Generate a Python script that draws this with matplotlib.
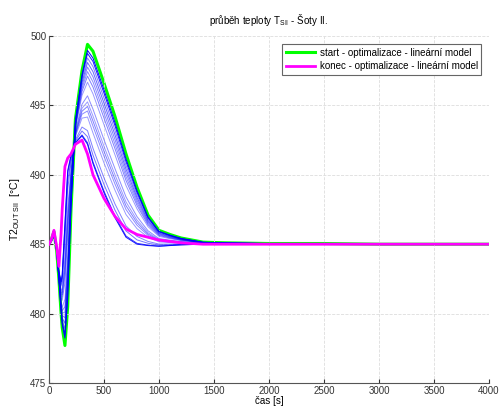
import numpy as np
import matplotlib
matplotlib.use('Agg')
import matplotlib.pyplot as plt

plt.rcParams['font.family'] = ['Liberation Sans', 'DejaVu Sans']
plt.rcParams['mathtext.fontset'] = 'custom'
plt.rcParams['mathtext.rm'] = 'Liberation Sans'

# key times [s]
t_key = [0, 20, 45, 70, 90, 110, 120, 145, 170, 200, 240, 300, 350, 400,
         500, 600, 700, 800, 900, 1000, 1100, 1200, 1400, 1600, 2000, 2500, 3000, 4000]

# start of optimisation (green)
t_start = [485.0, 485.3, 485.9, 484.5, 482.5, 480.0, 479.0, 477.7, 480.5, 487.5, 494.0, 497.5, 499.4, 498.9,
           496.6, 494.2, 491.5, 489.1, 487.1, 486.0, 485.7, 485.45, 485.15, 485.1, 485.05, 485.05, 485.0, 485.0]

# end of optimisation (magenta)
t_end = [485.0, 485.3, 486.0, 484.8, 483.4, 485.8, 487.5, 490.6, 491.2, 491.5, 492.2, 492.5, 491.5, 490.0,
         488.3, 487.0, 486.1, 485.7, 485.5, 485.3, 485.2, 485.1, 485.0, 485.0, 485.0, 485.0, 485.0, 485.0]

# lowest intermediate iteration (blue)
t_low = [485.0, 485.2, 485.6, 484.6, 483.0, 482.3, 482.8, 486.5, 490.3, 491.4, 492.3, 492.8, 492.2, 490.8,
         488.7, 486.9, 485.5, 485.0, 484.9, 484.85, 484.9, 484.95, 485.0, 485.0, 485.0, 485.0, 485.0, 485.0]

# peak temperatures of intermediate iterations
blue_peaks = [499.0, 498.8, 498.5, 498.2, 497.9, 497.6, 497.3, 496.9, 496.0, 495.6,
              495.3, 495.0, 494.6, 493.7, 493.3, 492.9, 492.8]
blue_alpha = [1.0, 0.9, 0.5, 0.6, 0.5, 0.45, 0.5, 0.4, 0.45, 0.4,
              0.5, 0.45, 0.4, 0.5, 0.55, 0.8, 0.9]

fig = plt.figure(figsize=(5, 4.07), dpi=100)
ax = fig.add_axes([0.098, 0.059, 0.88, 0.8525])

s = np.array(t_start)
lo = np.array(t_low)
for p, a in zip(blue_peaks, blue_alpha):
    w = (p - 492.8) / (499.4 - 492.8)
    ax.plot(t_key, w * s + (1 - w) * lo, color='#0000ff', alpha=a, lw=0.7)

ax.plot(t_key, t_start, color='#00ff00', lw=2.2, zorder=1,
        label='start - optimalizace - lineární model')
ax.plot(t_key, t_end, color='#ff00ff', lw=2.0, zorder=5,
        label='konec - optimalizace - lineární model')

ax.set_xlim(0, 4000)
ax.set_ylim(475, 500)
ax.set_xticks(np.arange(0, 4001, 500))
ax.set_yticks(np.arange(475, 501, 5))
ax.tick_params(direction='in', labelsize=7, length=3, pad=2, colors='#333333')
ax.grid(True, ls='--', color='#dddddd', lw=0.6)
for sp in ['top', 'right']:
    ax.spines[sp].set_visible(False)
for sp in ['left', 'bottom']:
    ax.spines[sp].set_color('#555555')

ax.set_title('průběh teploty T$_\\mathrm{SII}$ - Šoty II.', fontsize=7, pad=9)
ax.set_xlabel('čas [s]', fontsize=7, labelpad=0)
ax.set_ylabel('T2$_\\mathrm{OUT\\ SII}$  [°C]', fontsize=7.5, labelpad=6)

leg = ax.legend(loc='upper right', fontsize=7, fancybox=False, framealpha=1,
                edgecolor='#666666', handlelength=3.0, borderpad=0.35, labelspacing=0.35,
                handletextpad=0.5, bbox_to_anchor=(0.993, 0.99))
leg.get_frame().set_linewidth(0.8)

fig.savefig('out.png', dpi=100)
